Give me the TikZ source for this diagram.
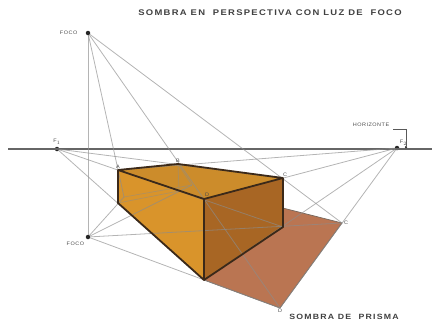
\documentclass[tikz,border=0pt]{standalone}
\usepackage{fontspec}
\usepackage{xcolor}
\usepackage{tikz}
\usetikzlibrary{positioning}
\setmainfont{Liberation Sans}
\newfontfamily\titlefont[LetterSpace=16,FakeStretch=1.15]{Liberation Sans}
\newfontfamily\labelfont[LetterSpace=10,FakeStretch=1.1]{Liberation Sans}
\definecolor{pastelorange}{rgb}{0.85, 0.58, 0.17}
\definecolor{topface}{rgb}{0.80, 0.55, 0.17}
\definecolor{sideface}{rgb}{0.66, 0.40, 0.14}
\definecolor{shadowbrown}{rgb}{0.73, 0.46, 0.32}
\definecolor{edgebrown}{rgb}{0.23, 0.16, 0.10}
\tikzset{
	dot/.style={circle, fill=black!85, inner sep=0pt, minimum size=4.5pt},
	tiny label/.style={text=black!70, font=\labelfont\fontsize{5}{6}\selectfont, inner sep=1pt},
	title label/.style={text=black!75, inner sep=0pt},
	ray/.style={black!45, opacity=0.65, line width=0.8pt},
	hidden ray/.style={black!45, opacity=0.5, line width=0.7pt},
	edge/.style={edgebrown, line width=1.8pt, line join=round}
}

\begin{document}
\begin{tikzpicture}[x=1pt, y=-1pt]
		\useasboundingbox (0,0) rectangle (432,322);
		
		% points of the prism
		\coordinate (topA) at (118,170);
		\coordinate (topB) at (178,164);
		\coordinate (topC) at (283,178);
		\coordinate (topD) at (204,199);
		\coordinate (lowA) at (118,203);
		\coordinate (lowB) at (179,191);
		\coordinate (lowC) at (283,227);
		\coordinate (lowD) at (204,280);
		
		% points of the shadow
		\coordinate (shadeA) at (124,197);
		\coordinate (shadeB) at (192,185);
		\coordinate (shadeC) at (342,223);
		\coordinate (shadeD) at (280,308);
		
		\coordinate (horizonL) at (8,149);
		\coordinate (horizonR) at (432,149);
		
		\node[dot] (focotop) at (88,33) {};
		\node[dot] (focolow) at (88,237) {};
		\node[dot] (fone) at (57,149) {};
		\node[dot] (ftwo) at (397,148) {};
		
		\fill[shadowbrown] (lowD) -- (shadeD) -- (shadeC) -- (shadeB) -- cycle;
		\draw[edgebrown!70, line width=0.7pt] (lowD) -- (shadeD) -- (shadeC) -- (shadeB);
		\fill[pastelorange] (topA) -- (topD) -- (lowD) -- (lowA) -- cycle;
		\fill[topface] (topA) -- (topB) -- (topC) -- (topD) -- cycle;
		\fill[sideface] (topD) -- (topC) -- (lowC) -- (lowD) -- cycle;
		
		\draw[black!60, line width=1.1pt] (horizonL) -- (horizonR);
		
		\draw[ray] (focotop) -- (focolow);
		\foreach \p in {shadeA,shadeC,shadeD}
			\draw[ray] (focotop) -- (\p);
		\foreach \p in {shadeA,shadeB,shadeC,shadeD}
			\draw[ray] (focolow) -- (\p);
		\foreach \p in {topC,lowC,lowD}
			\draw[ray] (fone) -- (\p);
		\foreach \p in {topA,topD,lowD,shadeD}
			\draw[ray] (ftwo) -- (\p);
		
		% hidden lines inside the prism
		\draw[hidden ray] (topB) -- (lowB);
		\draw[hidden ray] (topB) -- (shadeB);
		\draw[hidden ray] (lowA) -- (lowB);
		\draw[hidden ray] (shadeA) -- (shadeB);
		
		\draw[edge] (topA) -- (topB) -- (topC) -- (topD) -- cycle;
		\draw[edge] (topA) -- (lowA) -- (lowD) -- (topD);
		\draw[edge] (lowD) -- (lowC) -- (topC);
		
		\node[tiny label, above=0pt of topA] (labelA) {A};
		\node[tiny label, above=0pt of topB] (labelB) {B};
		\node[tiny label, above right=0pt and -1pt of topC] (labelC) {C};
		\node[tiny label, right=1pt of shadeC] (labelCC) {C};
		\node[tiny label, above right=1pt and 0pt of topD] (labelDD) {D};
		\node[tiny label, below=0pt of shadeD] (labelD) {D};
		\node[tiny label, left=7pt of focotop] (labeltop) {FOCO};
		\node[tiny label, below left=2pt and 1pt of focolow] (labellow) {FOCO};
		\node[tiny label, above=1pt of fone] (labelone) {F$_{\scriptscriptstyle 1}$};
		\node[tiny label, above right=0pt and 0pt of ftwo] (labeltwo) {F$_{\scriptscriptstyle 2}$};
		
		\node[tiny label] (horizonte) at (371,125) {HORIZONTE};
		\node[circle, fill=black!85, inner sep=0pt, minimum size=2.5pt] (horizonend) at (406,147) {};
		\draw[black!65, line width=0.6pt] (393,129) -| (horizonend);
		
		\node[title label, font=\titlefont\bfseries\fontsize{8.2}{10}\selectfont] (titletext) at (270,13) {SOMBRA EN \ PERSPECTIVA CON LUZ DE \ FOCO};
		\node[title label, font=\titlefont\bfseries\fontsize{7.6}{9}\selectfont] (prismatext) at (344,317) {SOMBRA DE \ PRISMA};
\end{tikzpicture}
\end{document}
